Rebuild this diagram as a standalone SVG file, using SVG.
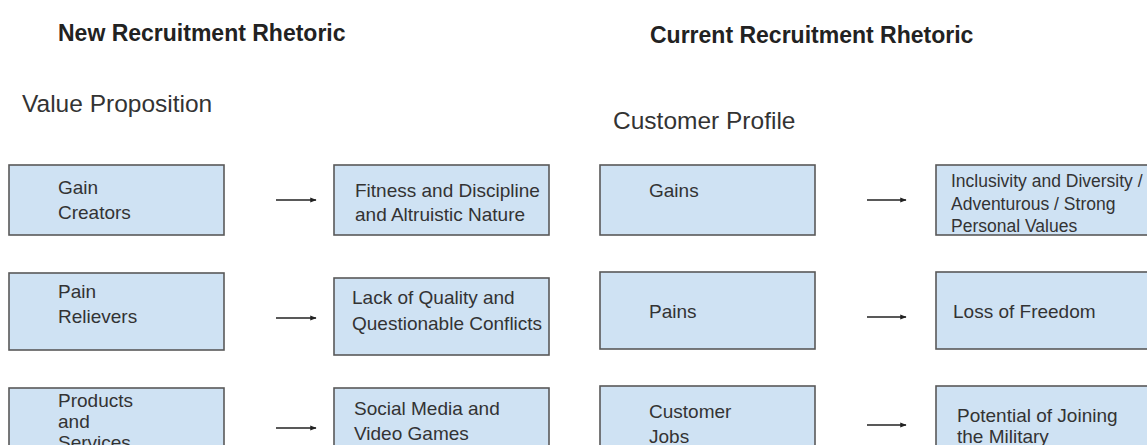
<svg xmlns="http://www.w3.org/2000/svg" width="1147" height="445" viewBox="0 0 1147 445">
  <defs>
    <marker id="head" viewBox="0 0 10 10" refX="9" refY="5" markerWidth="4" markerHeight="4" orient="auto" markerUnits="strokeWidth">
      <path d="M0,1 L10,5 L0,9 z" fill="#222"/>
    </marker>
  </defs>
  <style>
    text { font-family: "Liberation Sans", Arial, sans-serif; fill: #222; }
    .title { font-size: 23px; font-weight: bold; }
    .sub { font-size: 24.5px; fill: #333; }
    .box { fill: #cfe2f3; stroke: #595959; stroke-width: 1.6; }
    .lbl { font-size: 19px; fill: #333; }
    .sm { font-size: 17.5px; fill: #333; }
    .conn { stroke: #222; stroke-width: 1.6; fill: none; marker-end: url(#head); }
  </style>
  <rect width="1147" height="445" fill="#fff"/>

  <!-- section headings -->
  <text class="title" x="58" y="41">New Recruitment Rhetoric</text>
  <text class="title" x="650" y="43">Current Recruitment Rhetoric</text>
  <text class="sub" x="22" y="112">Value Proposition</text>
  <text class="sub" x="613" y="129">Customer Profile</text>

  <!-- value proposition column -->
  <g id="gain-creators">
    <rect class="box" x="9" y="165" width="215" height="70"/>
    <text class="lbl" x="58" y="194">Gain</text>
    <text class="lbl" x="58" y="219">Creators</text>
  </g>
  <g id="fitness">
    <rect class="box" x="334" y="165" width="215" height="70"/>
    <text class="lbl" x="355" y="197">Fitness and Discipline</text>
    <text class="lbl" x="355" y="221">and Altruistic Nature</text>
  </g>
  <g id="pain-relievers">
    <rect class="box" x="9" y="273" width="215" height="77"/>
    <text class="lbl" x="58" y="298">Pain</text>
    <text class="lbl" x="58" y="323">Relievers</text>
  </g>
  <g id="lack-of-quality">
    <rect class="box" x="334" y="278" width="215" height="77"/>
    <text class="lbl" x="352" y="304">Lack of Quality and</text>
    <text class="lbl" x="352" y="330">Questionable Conflicts</text>
  </g>
  <g id="products-services">
    <rect class="box" x="9" y="388" width="215" height="80"/>
    <text class="lbl" x="58" y="407">Products</text>
    <text class="lbl" x="58" y="428">and</text>
    <text class="lbl" x="58" y="449">Services</text>
  </g>
  <g id="social-media">
    <rect class="box" x="334" y="388" width="215" height="80"/>
    <text class="lbl" x="354" y="415">Social Media and</text>
    <text class="lbl" x="354" y="440">Video Games</text>
  </g>

  <!-- customer profile column -->
  <g id="gains">
    <rect class="box" x="600" y="165" width="215" height="70"/>
    <text class="lbl" x="649" y="197">Gains</text>
  </g>
  <g id="inclusivity">
    <rect class="box" x="936" y="165" width="220" height="70"/>
    <text class="sm" x="951" y="187">Inclusivity and Diversity /</text>
    <text class="sm" x="951" y="210">Adventurous / Strong</text>
    <text class="sm" x="951" y="232">Personal Values</text>
  </g>
  <g id="pains">
    <rect class="box" x="600" y="272" width="215" height="77"/>
    <text class="lbl" x="649" y="318">Pains</text>
  </g>
  <g id="loss-of-freedom">
    <rect class="box" x="936" y="272" width="220" height="77"/>
    <text class="lbl" x="953" y="318">Loss of Freedom</text>
  </g>
  <g id="customer-jobs">
    <rect class="box" x="600" y="386" width="215" height="80"/>
    <text class="lbl" x="649" y="418">Customer</text>
    <text class="lbl" x="649" y="443">Jobs</text>
  </g>
  <g id="joining-military">
    <rect class="box" x="936" y="386" width="220" height="80"/>
    <text class="lbl" x="957" y="422">Potential of Joining</text>
    <text class="lbl" x="957" y="443">the Military</text>
  </g>

  <!-- connectors -->
  <g id="connectors">
    <line class="conn" x1="276" y1="200" x2="316" y2="200"/>
    <line class="conn" x1="276" y1="318" x2="316" y2="318"/>
    <line class="conn" x1="276" y1="428" x2="316" y2="428"/>
    <line class="conn" x1="867" y1="200" x2="906" y2="200"/>
    <line class="conn" x1="867" y1="317" x2="906" y2="317"/>
    <line class="conn" x1="867" y1="425" x2="906" y2="425"/>
  </g>
</svg>
